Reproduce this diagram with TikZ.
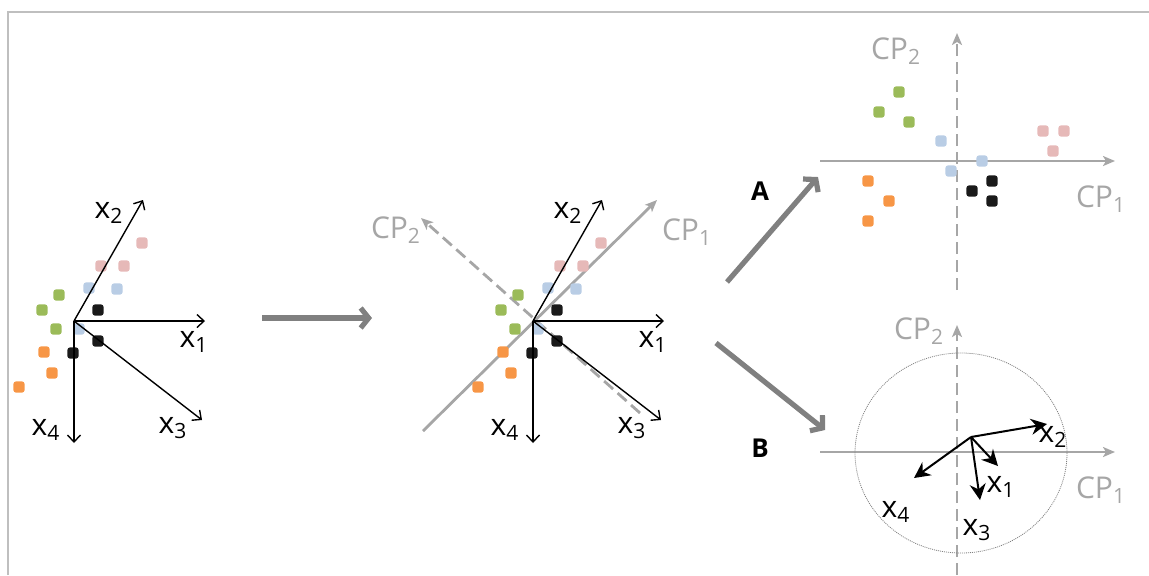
\documentclass[tikz,border=0pt]{standalone}
\usepackage{fontspec}
\setmainfont{Open Sans}
\usetikzlibrary{arrows.meta, positioning}

\definecolor{pinkc}{HTML}{E6B9B8}
\definecolor{bluec}{HTML}{B9CDE5}
\definecolor{greenc}{HTML}{9BBB59}
\definecolor{orangec}{HTML}{F79646}
\definecolor{blackc}{HTML}{1A1A1A}
\definecolor{axisc}{HTML}{A6A6A6}
\definecolor{bigc}{HTML}{808080}
\definecolor{framec}{HTML}{BFBFBF}

\tikzset{
  obs/.style={rectangle, rounded corners=1.3pt, minimum size=5.6pt, inner sep=0pt},
  vec/.style={draw=black, line width=0.7pt, -{Straight Barb[length=3.5pt,width=6.5pt]}},
  bvec/.style={draw=black, line width=1pt, -{Stealth[length=8pt,width=8pt]}},
  cpaxis/.style={draw=axisc, line width=1.4pt, -{Stealth[length=6pt,width=5pt,inset=1.5pt]}},
  cpdash/.style={cpaxis, dash pattern=on 6pt off 3pt},
  bigarrow/.style={draw=bigc, line width=2.6pt, -{Straight Barb[length=4pt,width=10pt]}},
  lbl/.style={font=\fontsize{15}{18}\selectfont, inner sep=0pt},
  cplbl/.style={lbl, text=axisc},
  lettr/.style={font=\fontsize{13}{16}\selectfont\bfseries, inner sep=0pt},
}
\newcommand{\sbs}[2]{#1\textsubscript{#2}}

\begin{document}
\begin{tikzpicture}[x=0.5pt, y=-0.5pt]
\useasboundingbox (0,0) rectangle (1149,575);
\draw [framec, line width=0.7pt] (8,575) -- (8,12) -- (1149,12);

% principal axes in the middle panel
\coordinate (cp1s) at (423,431);
\coordinate (cp1e) at (657,200);
\coordinate (cp2s) at (640,413);
\coordinate (cp2e) at (421,218);
\draw [cpaxis] (cp1s) -- (cp1e);
\draw [cpdash] (cp2s) -- (cp2e);
\node [cplbl] (mcp1) at (687,232) {\sbs{CP}{1}};
\node [cplbl] (mcp2) at (396,230) {\sbs{CP}{2}};

% data cloud and variables, left and middle
\foreach \dx/\nm in {0/l, 459/m} {
\begin{scope}[shift={(\dx,0)}]
\foreach \p [count=\i] in {(142,243),(101,266),(124,266)} \node [obs, fill=pinkc] (\nm pk\i) at \p {};
\foreach \p [count=\i] in {(89,288),(117,289),(79,329)} \node [obs, fill=bluec] (\nm bl\i) at \p {};
\foreach \p [count=\i] in {(59,295),(42,310),(56,329)} \node [obs, fill=greenc] (\nm gr\i) at \p {};
\foreach \p [count=\i] in {(44,352),(52,373),(19,387)} \node [obs, fill=orangec] (\nm or\i) at \p {};
\foreach \p [count=\i] in {(98,310),(98,341),(73,353)} \node [obs, fill=blackc] (\nm bk\i) at \p {};
\coordinate (\nm o) at (74,321);
\coordinate (\nm x1) at (205,321);
\coordinate (\nm x2) at (143,200);
\coordinate (\nm x3) at (202,420);
\coordinate (\nm x4) at (74,443);
\foreach \v in {x1,x2,x3,x4} \draw [vec] (\nm o) -- (\nm\v);
\node [lbl] (\nm l1) at (194,342) {\sbs{x}{1}};
\node [lbl] (\nm l2) at (109,213) {\sbs{x}{2}};
\node [lbl] (\nm l3) at (173,428) {\sbs{x}{3}};
\node [lbl] (\nm l4) at (46,430) {\sbs{x}{4}};
\end{scope}
}

% arrows between panels
\coordinate (ms) at (262,318);
\coordinate (me) at (372,318);
\coordinate (as) at (727,282);
\coordinate (ae) at (818,177);
\coordinate (bs) at (716,343);
\coordinate (be) at (825,430);
\draw [bigarrow] (ms) -- (me);
\draw [bigarrow] (as) -- (ae);
\draw [bigarrow] (bs) -- (be);
\node [lettr] (la) at (760,191) {A};
\node [lettr] (lb) at (760,448) {B};

% A: scores
\coordinate (a1s) at (820,161);
\coordinate (a1e) at (1115,161);
\coordinate (a2s) at (957,290);
\coordinate (a2e) at (957,33);
\draw [cpaxis] (a1s) -- (a1e);
\draw [cpdash] (a2s) -- (a2e);
\node [cplbl] (acp1) at (1101,199) {\sbs{CP}{1}};
\node [cplbl] (acp2) at (896,51) {\sbs{CP}{2}};
\foreach \p [count=\i] in {(899,92),(879,112),(909,122)} \node [obs, fill=greenc] (agr\i) at \p {};
\foreach \p [count=\i] in {(941,141),(951,171),(982,161)} \node [obs, fill=bluec] (abl\i) at \p {};
\foreach \p [count=\i] in {(1043,131),(1064,131),(1053,151)} \node [obs, fill=pinkc] (apk\i) at \p {};
\foreach \p [count=\i] in {(868,181),(889,201),(868,221)} \node [obs, fill=orangec] (aor\i) at \p {};
\foreach \p [count=\i] in {(972,191),(992,181),(992,201)} \node [obs, fill=blackc] (abk\i) at \p {};

% B: correlation circle
\coordinate (b1s) at (820,452);
\coordinate (b1e) at (1115,452);
\coordinate (b2s) at (957,575);
\coordinate (b2e) at (957,325);
\draw [cpaxis] (b1s) -- (b1e);
\draw [cpdash] (b2s) -- (b2e);
\node [cplbl] (bcp1) at (1101,490) {\sbs{CP}{1}};
\node [cplbl] (bcp2) at (919,331) {\sbs{CP}{2}};
\coordinate (bc) at (961,453);
\draw [bigc, line width=0.4pt, dash pattern=on 0.5pt off 0.5pt] (bc) ellipse [x radius=106, y radius=100];
\coordinate (bo) at (971,437);
\coordinate (bx1) at (998,466);
\coordinate (bx2) at (1047,424);
\coordinate (bx3) at (980,500);
\coordinate (bx4) at (914,478);
\foreach \v in {x1,x2,x3,x4} \draw [bvec] (bo) -- (b\v);
\node [lbl] (bl1) at (1001,487) {\sbs{x}{1}};
\node [lbl] (bl2) at (1053,437) {\sbs{x}{2}};
\node [lbl] (bl3) at (977,530) {\sbs{x}{3}};
\node [lbl] (bl4) at (896,512) {\sbs{x}{4}};
\end{tikzpicture}
\end{document}
